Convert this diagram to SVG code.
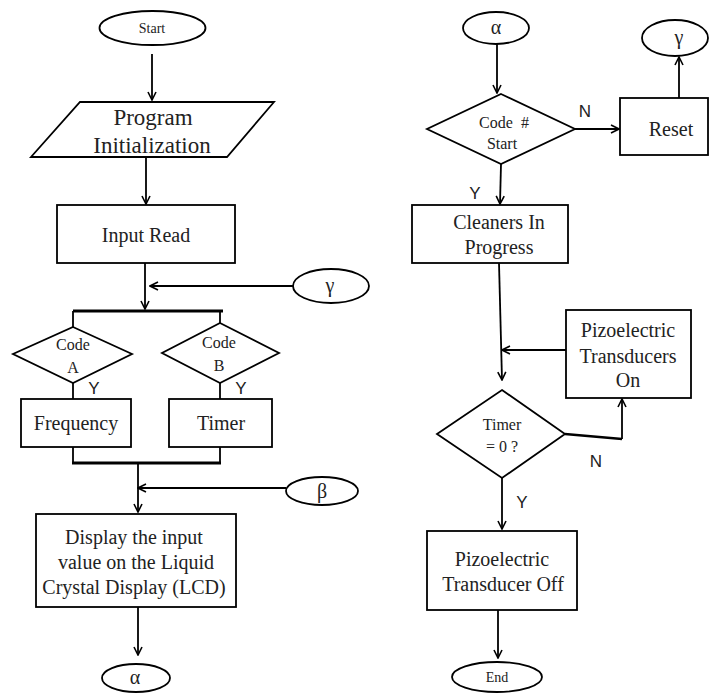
<svg xmlns="http://www.w3.org/2000/svg" width="711" height="693" viewBox="0 0 711 693">
<style>
.s{fill:#fff;stroke:#000;stroke-width:1.8}
.c{fill:none;stroke:#000;stroke-width:1.8}
.bar{fill:none;stroke:#000;stroke-width:3}
text{font-family:"Liberation Serif","Times New Roman",serif;fill:#222;text-anchor:middle;dominant-baseline:central}
.t20{font-size:20px}
.t23{font-size:23px}
.t16{font-size:16px}
.t14{font-size:14px}
.yn{font-family:"Liberation Sans",Arial,sans-serif;font-size:17px}
</style>
<defs>
<marker id="a" viewBox="0 0 10 10" refX="9" refY="5" markerWidth="10" markerHeight="10" markerUnits="userSpaceOnUse" orient="auto">
<path d="M1,1 L9,5 L1,9" fill="none" stroke="#000" stroke-width="1.6"/>
</marker>
</defs>
<rect width="711" height="693" fill="#fff"/>

<g id="connectors">
<line class="c" x1="152" y1="54" x2="152" y2="100" marker-end="url(#a)"/>
<line class="c" x1="146" y1="157" x2="146" y2="204" marker-end="url(#a)"/>
<line class="c" x1="145" y1="263" x2="145" y2="309" marker-end="url(#a)"/>
<line class="c" x1="293" y1="286" x2="150" y2="286" marker-end="url(#a)"/>
<polyline class="bar" points="73,311 223,311"/>
<line class="c" x1="73" y1="311" x2="73" y2="327"/>
<line class="c" x1="220" y1="311" x2="220" y2="323"/>
<line class="c" x1="73" y1="383" x2="73" y2="399"/>
<line class="c" x1="220" y1="383" x2="220" y2="399"/>
<line class="c" x1="73" y1="447" x2="73" y2="463"/>
<line class="c" x1="220" y1="447" x2="220" y2="463"/>
<polyline class="bar" points="72,463 221,463"/>
<line class="c" x1="138" y1="463" x2="138" y2="512" marker-end="url(#a)"/>
<line class="c" x1="286" y1="488" x2="138" y2="488" marker-end="url(#a)"/>
<line class="c" x1="138" y1="607" x2="138" y2="655" marker-end="url(#a)"/>

<line class="c" x1="497" y1="44" x2="497" y2="93" marker-end="url(#a)"/>
<line class="c" x1="575" y1="129" x2="619" y2="129" marker-end="url(#a)"/>
<line class="c" x1="679" y1="98" x2="679" y2="57" marker-end="url(#a)"/>
<line class="c" x1="501" y1="164" x2="500" y2="204" marker-end="url(#a)"/>
<line class="c" x1="499" y1="263" x2="502" y2="380" marker-end="url(#a)"/>
<line class="c" x1="566" y1="350" x2="502" y2="350" marker-end="url(#a)"/>
<polyline class="c" style="stroke-width:2.5" points="565,434 622,439"/>
<line class="c" x1="622" y1="439" x2="622" y2="399" marker-end="url(#a)"/>
<line class="c" x1="502" y1="478" x2="502" y2="529" marker-end="url(#a)"/>
<line class="c" x1="498" y1="610" x2="498" y2="658" marker-end="url(#a)"/>
</g>

<g id="start"><ellipse class="s" cx="152.5" cy="28" rx="53" ry="17"/><text class="t14" x="152" y="28">Start</text></g>
<g id="init"><polygon class="s" points="80,102 274,102 227,157 31,157"/><text class="t23" x="153" y="117">Program</text><text class="t23" x="152" y="145">Initialization</text></g>
<g id="input"><rect class="s" x="57" y="205" width="178" height="58"/><text class="t20" x="146" y="235">Input Read</text></g>
<g id="gamma-in"><ellipse class="s" cx="331" cy="286" rx="38" ry="17"/><text class="t20" x="330" y="285">γ</text></g>
<g id="codeA"><polygon class="s" points="73,327 132,354 73,383 13,354"/><text class="t16" x="73" y="344">Code</text><text class="t16" x="73" y="367">A</text><text class="yn" x="94" y="388">Y</text></g>
<g id="codeB"><polygon class="s" points="220,323 279,353 220,383 162,353"/><text class="t16" x="219" y="342">Code</text><text class="t16" x="219" y="365">B</text><text class="yn" x="241" y="388">Y</text></g>
<g id="freq"><rect class="s" x="21" y="399" width="110" height="48"/><text class="t20" x="76" y="423">Frequency</text></g>
<g id="timer"><rect class="s" x="169" y="399" width="103" height="48"/><text class="t20" x="221" y="423">Timer</text></g>
<g id="beta"><ellipse class="s" cx="322" cy="491" rx="36" ry="14"/><text class="t20" x="322" y="491">β</text></g>
<g id="display"><rect class="s" x="36" y="514" width="200" height="93"/><text class="t20" x="134" y="537">Display the input</text><text class="t20" x="136" y="562">value on the Liquid</text><text class="t20" x="134" y="587">Crystal Display (LCD)</text></g>
<g id="alpha-out"><ellipse class="s" cx="136" cy="678" rx="34" ry="14"/><text class="t20" x="135" y="677">α</text></g>

<g id="alpha-in"><ellipse class="s" cx="496" cy="28" rx="33" ry="16"/><text class="t20" x="496" y="27">α</text></g>
<g id="codeStart"><polygon class="s" points="501,94 575,129 501,164 427,129"/><text class="t16" x="504" y="122" xml:space="preserve">Code  #</text><text class="t16" x="502" y="143">Start</text><text class="yn" x="585" y="111">N</text><text class="yn" x="475" y="193">Y</text></g>
<g id="reset"><rect class="s" x="620" y="98" width="88" height="57"/><text class="t20" x="671" y="129">Reset</text></g>
<g id="gamma-out"><ellipse class="s" cx="675" cy="38" rx="33" ry="18"/><text class="t20" x="679" y="37">γ</text></g>
<g id="cleaners"><rect class="s" x="412" y="205" width="156" height="58"/><text class="t20" x="499" y="222">Cleaners In</text><text class="t20" x="499" y="247">Progress</text></g>
<g id="pizoOn"><rect class="s" x="566" y="310" width="125" height="88"/><text class="t20" x="628" y="330">Pizoelectric</text><text class="t20" x="628" y="356">Transducers</text><text class="t20" x="628" y="380">On</text></g>
<g id="timerZero"><polygon class="s" points="502,390 565,434 502,478 437,434"/><text class="t16" x="502" y="424">Timer</text><text class="t16" x="502" y="446">= 0 ?</text><text class="yn" x="596" y="461">N</text><text class="yn" x="522" y="502">Y</text></g>
<g id="pizoOff"><rect class="s" x="427" y="531" width="150" height="79"/><text class="t20" x="502" y="559">Pizoelectric</text><text class="t20" x="503" y="584">Transducer Off</text></g>
<g id="end"><ellipse class="s" cx="497" cy="677" rx="45" ry="15"/><text class="t14" x="497" y="677">End</text></g>
</svg>
